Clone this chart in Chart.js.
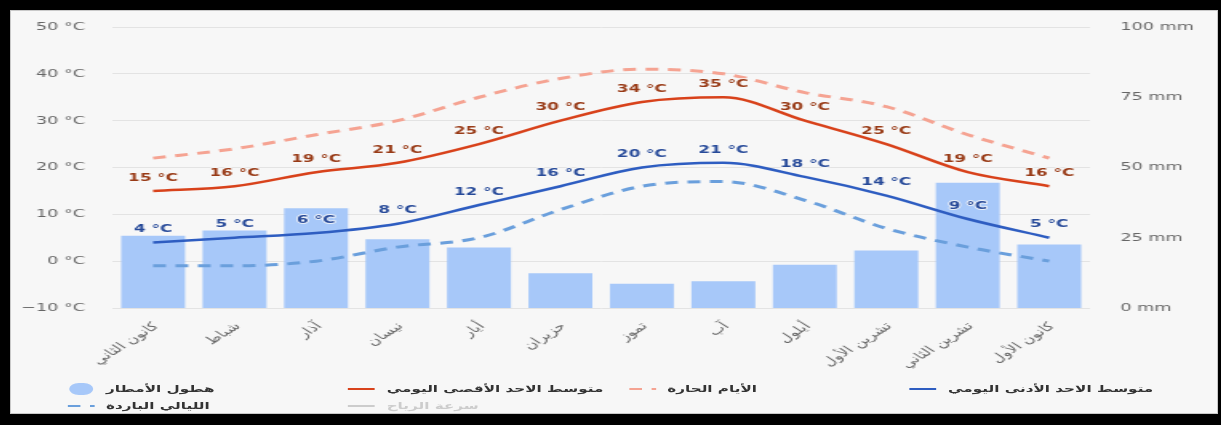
<!DOCTYPE html>
<html lang="ar">
<head>
<meta charset="utf-8">
<title>المناخ الشهري</title>
<script src="https://cdn.jsdelivr.net/npm/chart.js@4.4.1/dist/chart.umd.min.js"></script>
<style>
  html, body { margin: 0; padding: 0; width: 1221px; height: 425px; background: #000; overflow: hidden; }
  #panel { position: absolute; left: 10px; top: 10px; width: 1208px; height: 404px; background: #f7f7f7;
           overflow: hidden; box-shadow: inset 0 0 0 1px #c9c9c9; }
  /* the chart is laid out at a narrower width and widened horizontally */
  #stage { position: absolute; left: 0; top: 0; width: 755px; height: 404px; transform: scaleX(1.6); transform-origin: 0 0; }
  #chart { position: absolute; left: 0; top: 0; }
  #legend { position: absolute; left: 0; top: 0; width: 755px; height: 404px; font: bold 9.5px "DejaVu Sans", sans-serif; color: #333; }
  .item { position: absolute; height: 14px; display: flex; align-items: center; white-space: nowrap; }
  .sym { width: 17px; height: 12px; display: flex; align-items: center; justify-content: center; }
  .txt { margin-left: 7px; direction: rtl; line-height: 14px; }
  .item.off .txt { color: #cccccc; }
</style>
</head>
<body>
<div id="panel">
  <div id="stage">
    <canvas id="chart" width="755" height="404"></canvas>
    <div id="legend"></div>
  </div>
</div>
<script>
// Monthly climate values
const months = ['كانون الثاني', 'شباط', 'آذار', 'نيسان', 'أيار', 'حزيران', 'تموز', 'آب', 'أيلول', 'تشرين الأول', 'تشرين الثاني', 'كانون الأول'];
const rainfall   = [25.7, 27.6, 35.5, 24.5, 21.5, 12.4, 8.6, 9.5, 15.4, 20.5, 44.6, 22.6];   // mm
const maxTemp    = [15, 16, 19, 21, 25, 30, 34, 35, 30, 25, 19, 16];                       // °C
const hotDays    = [22, 24, 27, 30, 35, 39, 41, 40, 36, 33, 27, 22];                       // °C
const minTemp    = [4, 5, 6, 8, 12, 16, 20, 21, 18, 14, 9, 5];                             // °C
const coldNights = [-1, -1, 0, 3, 5, 11, 16, 17, 13, 7, 3, 0];                             // °C
const windSpeed  = [];

const tempRange = { min: -10, max: 50, step: 10 };
const rainRange = { min: 0, max: 100, step: 25 };
const tempUnit = '°C';
const rainUnit = 'mm';

const seriesNames = {
  rain: 'هطول الأمطار',
  max: 'متوسط الاحد الأقصى اليومي',
  hot: 'الأيام الحارة',
  min: 'متوسط الاحد الأدنى اليومي',
  cold: 'الليالي الباردة',
  wind: 'سرعة الرياح'
};

const fmtNum = v => (v < 0 ? '\u2212' + Math.abs(v) : String(v));

Chart.defaults.font.family = '"DejaVu Sans", sans-serif';
Chart.defaults.color = '#666666';

// Writes the temperature above each point of the series that carry a valueColor
const valueLabels = {
  id: 'valueLabels',
  afterDatasetsDraw(chart) {
    const ctx = chart.ctx;
    chart.data.datasets.forEach((ds, i) => {
      if (!ds.valueColor || !chart.isDatasetVisible(i)) return;
      const meta = chart.getDatasetMeta(i);
      ctx.save();
      ctx.font = 'bold 10.5px "DejaVu Sans", sans-serif';
      ctx.textAlign = 'center';
      ctx.textBaseline = 'middle';
      ctx.lineJoin = 'round';
      meta.data.forEach((pt, j) => {
        const txt = fmtNum(ds.data[j]) + ' ' + tempUnit;
        ctx.strokeStyle = 'rgba(248,248,248,0.85)';
        ctx.lineWidth = 2;
        ctx.strokeText(txt, pt.x, pt.y - 13);
        ctx.fillStyle = ds.valueColor;
        ctx.fillText(txt, pt.x, pt.y - 13);
      });
      ctx.restore();
    });
  }
};

const lineBase = { type: 'line', yAxisID: 'yTemp', pointRadius: 0, pointHoverRadius: 0, fill: false,
                   cubicInterpolationMode: 'monotone', borderCapStyle: 'butt' };

const chart = new Chart(document.getElementById('chart'), {
  data: {
    labels: months,
    datasets: [
      { type: 'bar', label: seriesNames.rain, data: rainfall, yAxisID: 'yRain', backgroundColor: '#a7c8f9',
        borderWidth: 0, barPercentage: 0.785, categoryPercentage: 1, order: 10 },
      { ...lineBase, label: seriesNames.max, data: maxTemp, borderColor: '#d8421b', borderWidth: 2.5,
        valueColor: '#983a16', order: 2 },
      { ...lineBase, label: seriesNames.hot, data: hotDays, borderColor: '#f5a392', borderWidth: 3,
        borderDash: [8, 6], order: 3 },
      { ...lineBase, label: seriesNames.min, data: minTemp, borderColor: '#2e5dc1', borderWidth: 2.5,
        valueColor: '#274a99', order: 2 },
      { ...lineBase, label: seriesNames.cold, data: coldNights, borderColor: '#6a9fdc', borderWidth: 3,
        borderDash: [8, 6], order: 3 },
      { ...lineBase, label: seriesNames.wind, data: windSpeed, borderColor: '#cccccc', borderWidth: 2,
        hidden: true, order: 4 }
    ]
  },
  options: {
    responsive: false,
    animation: false,
    devicePixelRatio: 1,
    layout: { padding: { top: 17, left: 0, right: 0, bottom: 0 } },
    plugins: { legend: { display: false }, tooltip: { enabled: false } },
    scales: {
      x: {
        offset: true,
        grid: { display: false },
        border: { display: false },
        ticks: { autoSkip: false, minRotation: 45, maxRotation: 45, padding: 4, labelOffset: 2,
                 color: '#666666', font: { size: 11 } },
        afterFit(s) { s.height = 106; }
      },
      yTemp: {
        position: 'left',
        min: tempRange.min, max: tempRange.max,
        grid: { color: '#e3e3e3', drawTicks: true, tickLength: 17, tickColor: 'rgba(0,0,0,0)' },
        border: { display: false },
        ticks: { stepSize: tempRange.step, padding: 0, color: '#666666', font: { size: 11 },
                 callback: v => fmtNum(v) + ' ' + tempUnit },
        afterFit(s) { s.width = 64; }
      },
      yRain: {
        position: 'right',
        min: rainRange.min, max: rainRange.max,
        grid: { display: false, drawTicks: true, tickLength: 19 },
        border: { display: false },
        ticks: { stepSize: rainRange.step, padding: 0, color: '#666666', font: { size: 11 },
                 callback: v => v + ' ' + rainUnit },
        afterFit(s) { s.width = 80; }
      }
    }
  },
  plugins: [valueLabels]
});

// Legend: four columns, two rows, built from the chart's own legend items in dataset order
(function buildLegend() {
  const host = document.getElementById('legend');
  const items = Chart.defaults.plugins.legend.labels.generateLabels(chart)
    .sort((a, b) => a.datasetIndex - b.datasetIndex);
  const colLeft = 36, colStep = 175.4, rowTop = [372, 389];
  items.forEach((it, k) => {
    const ds = chart.data.datasets[it.datasetIndex];
    const el = document.createElement('div');
    el.className = 'item' + (it.hidden ? ' off' : '');
    el.style.left = (colLeft + (k % 4) * colStep) + 'px';
    el.style.top = rowTop[Math.floor(k / 4)] + 'px';
    const sym = document.createElement('span');
    sym.className = 'sym';
    const col = it.hidden ? '#cccccc' : (ds.type === 'bar' ? ds.backgroundColor : ds.borderColor);
    if (ds.type === 'bar') {
      sym.innerHTML = '<span style="display:block;width:15px;height:12px;border-radius:6px;background:' + col + '"></span>';
    } else {
      const dash = (ds.borderDash && ds.borderDash.length) ? ' stroke-dasharray="' + ds.borderDash.join(' ') + '"' : '';
      sym.innerHTML = '<svg width="17" height="12"><line x1="0" y1="6" x2="17" y2="6" stroke="' + col +
                      '" stroke-width="2"' + dash + '/></svg>';
    }
    const txt = document.createElement('span');
    txt.className = 'txt';
    txt.textContent = it.text;
    el.appendChild(sym);
    el.appendChild(txt);
    host.appendChild(el);
  });
})();
</script>
</body>
</html>
